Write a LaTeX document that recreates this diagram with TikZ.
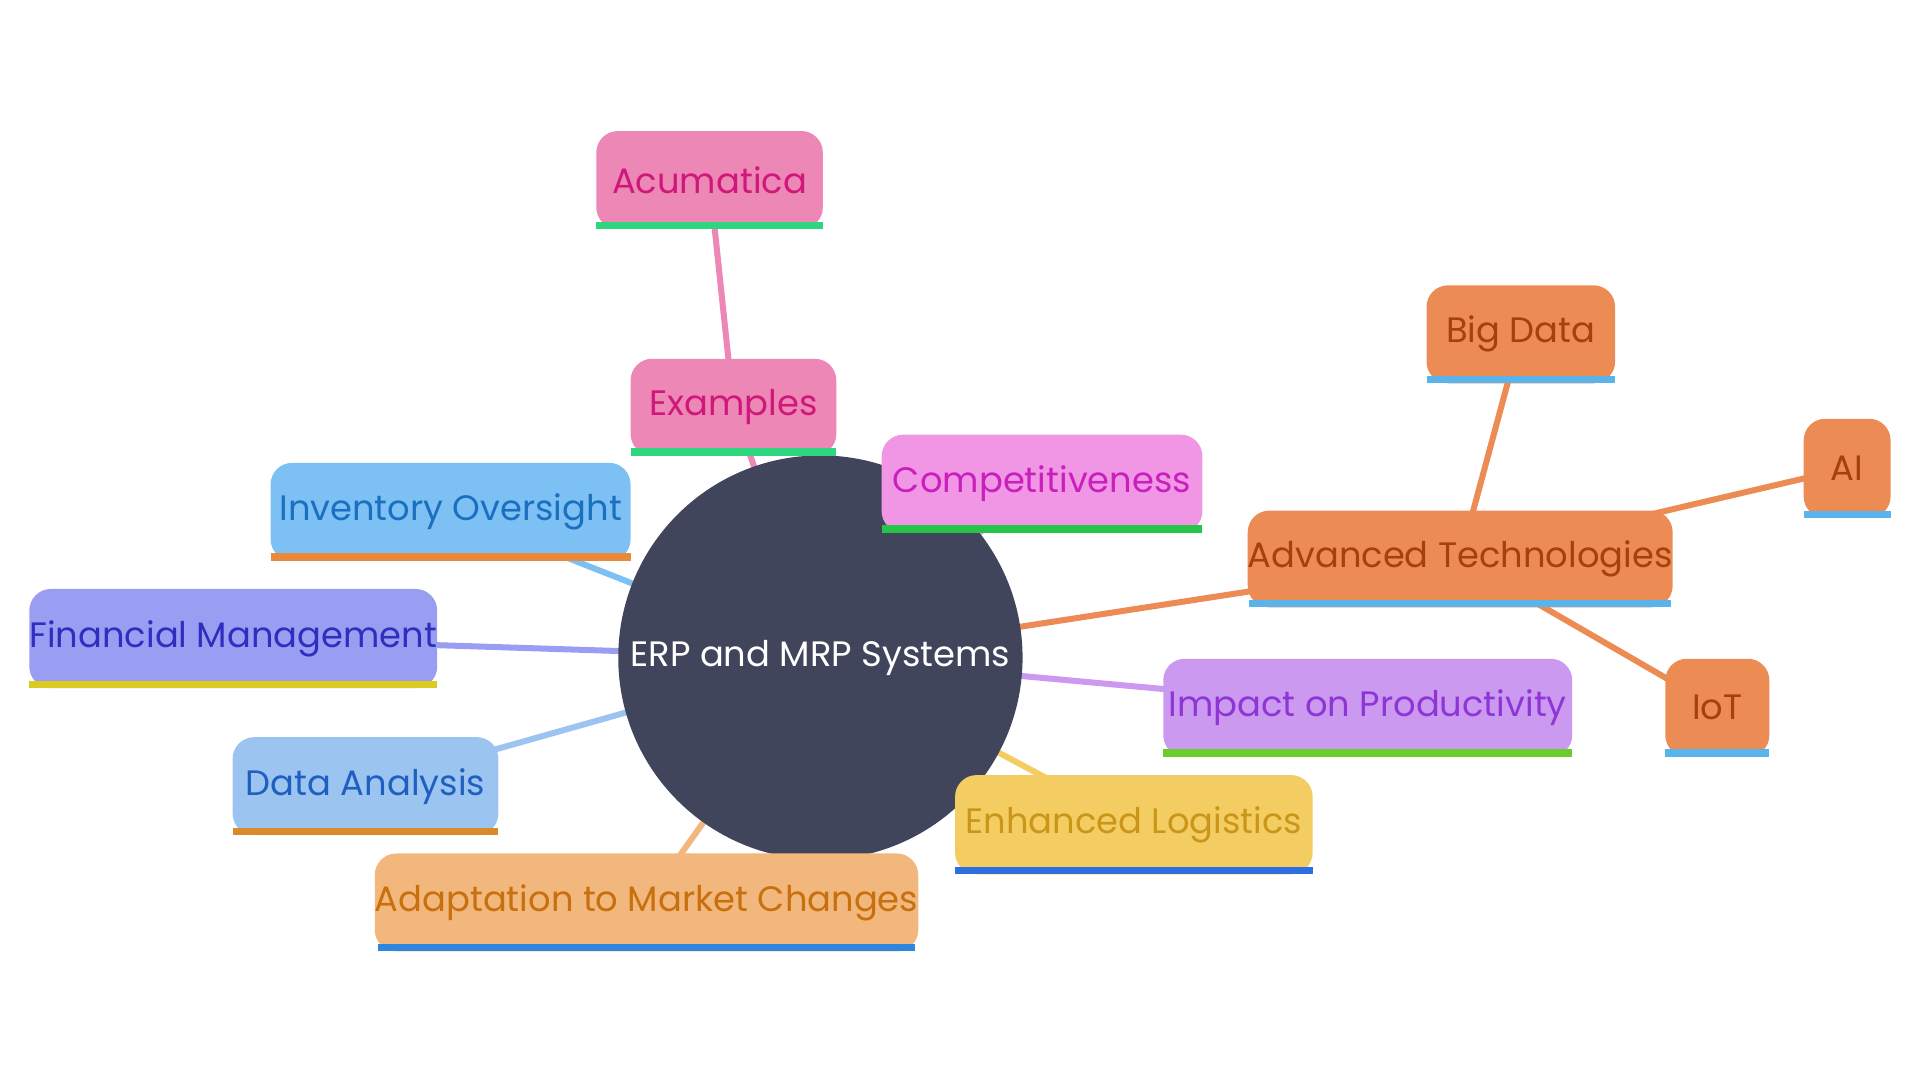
\documentclass[tikz,border=0pt]{standalone}
\usepackage{fontspec}
\setmainfont{Poppins}
\usetikzlibrary{backgrounds}
\definecolor{cpink}{HTML}{EC87B6}\definecolor{tpink}{HTML}{D0177A}
\definecolor{cgreen}{HTML}{2ED67F}
\definecolor{cmag}{HTML}{F196E5}\definecolor{tmag}{HTML}{C81FBD}\definecolor{cgreen2}{HTML}{27C44A}
\definecolor{csky}{HTML}{7CC0F4}\definecolor{tsky}{HTML}{1B6FC0}\definecolor{corg}{HTML}{E88A3A}
\definecolor{cvio}{HTML}{9A9EF2}\definecolor{tvio}{HTML}{2F2FBF}\definecolor{cyel}{HTML}{D9CC1E}
\definecolor{cblu}{HTML}{9CC4F0}\definecolor{tblu}{HTML}{1F5FC0}\definecolor{corg2}{HTML}{D98A2B}
\definecolor{cpea}{HTML}{F1B77D}\definecolor{tpea}{HTML}{C9700E}\definecolor{cblue}{HTML}{2E86E0}
\definecolor{cgold}{HTML}{F3CD62}\definecolor{tgold}{HTML}{C9961A}\definecolor{cblue2}{HTML}{2D6FE0}
\definecolor{cpur}{HTML}{CB99F0}\definecolor{tpur}{HTML}{8E35D6}\definecolor{clime}{HTML}{6ACD2A}
\definecolor{cora}{HTML}{EC8C54}\definecolor{tora}{HTML}{A8400C}\definecolor{ccyan}{HTML}{5AB4EC}
\definecolor{cdark}{HTML}{41455C}
% \mnode{name}{x1}{y1}{x2}{y2}{fill}{text}{stripe}{label}
\newcommand{\mnode}[9]{%
  \node[box, fill=#6, text=#7, minimum width={(#4-#2)*0.01cm}, minimum height={(#5-#3)*0.01cm}] (#1) at ({(#2+#4)/2},{(#3+#5)/2}) {#9};
  \fill[#8] (#2,#5-6) rectangle (#4,#5);}
\begin{document}
\begin{tikzpicture}[x=0.01cm,y=-0.01cm,
  box/.style={rounded corners=5pt, inner sep=0pt, font=\fontsize{8.2pt}{9pt}\selectfont},
  link/.style={line width=1.4pt}]
\useasboundingbox (0,0) rectangle (1568,882);
\node[circle, fill=cdark, minimum size=3.3cm, inner sep=0pt, text=white, font=\fontsize{8.2pt}{9pt}\selectfont] (c) at (670,537) {ERP and MRP Systems};
\mnode{acu}{487}{107}{672}{187}{cpink}{tpink}{cgreen}{Acumatica}
\mnode{ex}{515}{293}{683}{372}{cpink}{tpink}{cgreen}{Examples}
\mnode{comp}{720}{355}{982}{435}{cmag}{tmag}{cgreen2}{Competitiveness}
\mnode{inv}{221}{378}{515}{458}{csky}{tsky}{corg}{Inventory Oversight}
\mnode{fin}{24}{481}{357}{562}{cvio}{tvio}{cyel}{Financial Management}
\mnode{data}{190}{602}{407}{682}{cblu}{tblu}{corg2}{Data Analysis}
\mnode{adap}{309}{697}{747}{777}{cpea}{tpea}{cblue}{Adaptation to Market Changes}
\mnode{log}{780}{633}{1072}{714}{cgold}{tgold}{cblue2}{Enhanced Logistics}
\mnode{imp}{950}{538}{1284}{618}{cpur}{tpur}{clime}{Impact on Productivity}
\mnode{adv}{1020}{417}{1365}{496}{cora}{tora}{ccyan}{Advanced Technologies}
\mnode{big}{1165}{233}{1319}{313}{cora}{tora}{ccyan}{Big Data}
\mnode{ai}{1473}{342}{1544}{423}{cora}{tora}{ccyan}{AI}
\mnode{iot}{1360}{538}{1445}{618}{cora}{tora}{ccyan}{IoT}
\begin{scope}[on background layer]
\draw[link,cpink] (acu.center) -- (ex.center);
\draw[link,cpink] (ex.center) -- (c.center);
\draw[link,cmag] (comp.center) -- (c.center);
\draw[link,csky] (inv.center) -- (c.center);
\draw[link,cvio] (fin.center) -- (c.center);
\draw[link,cblu] (data.center) -- (c.center);
\draw[link,cpea] (adap.center) -- (c.center);
\draw[link,cgold] (log.center) -- (c.center);
\draw[link,cpur] (imp.center) -- (c.center);
\draw[link,cora] (adv.center) -- (c.center);
\draw[link,cora] (big.center) -- (adv.center);
\draw[link,cora] (ai.center) -- (adv.center);
\draw[link,cora] (iot.center) -- (adv.center);
\end{scope}
\end{tikzpicture}
\end{document}
